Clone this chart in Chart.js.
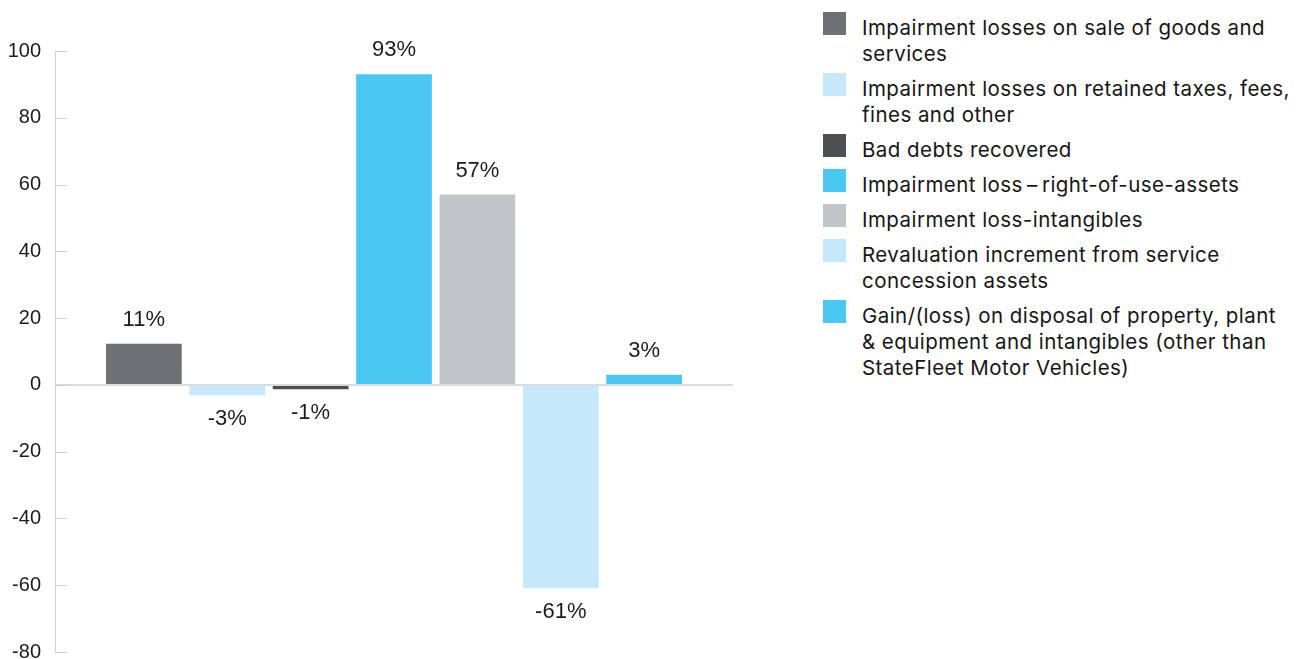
<!DOCTYPE html>
<html>
<head>
<meta charset="utf-8">
<script src="https://cdn.jsdelivr.net/npm/chart.js@4"></script>
<style>
  html, body { margin: 0; padding: 0; background: #fff; overflow: hidden; }
  body { width: 1307px; height: 659px; position: relative; }
  #chart-box { position: absolute; left: 0; top: 0; width: 760px; height: 680px; }
  #legend { position: absolute; left: 823px; top: 15px; margin: 0; padding: 0; list-style: none;
    font-family: "Inter", "Noto Sans", sans-serif; font-size: 20.5px; letter-spacing: 0.45px;
    line-height: 26px; color: #161616; }
  #legend li { position: relative; padding-left: 39px; margin-bottom: 9px; white-space: nowrap; }
  #legend li span.sw { position: absolute; left: 0; top: -3px; width: 23px; height: 23px; }
</style>
</head>
<body>
<div id="chart-box"><canvas id="impairment-chart"></canvas></div>
<ul id="legend"></ul>
<script>
var categories = [
    "Impairment losses on sale of goods and\nservices",
    "Impairment losses on retained taxes, fees,\nfines and other",
    "Bad debts recovered",
    "Impairment loss\u2009\u2013\u2009right-of-use-assets",
    "Impairment loss-intangibles",
    "Revaluation increment from service\nconcession assets",
    "Gain/(loss) on disposal of property, plant\n& equipment and intangibles (other than\nStateFleet Motor Vehicles)"
];
var values = [12.3, -3.1, -1.3, 93, 57, -60.9, 3];
var valueLabels = ["11%", "-3%", "-1%", "93%", "57%", "-61%", "3%"];
var colors = ["#6e7274", "#c5e9fb", "#4a5054", "#4ac7f2", "#c2c6c9", "#c5e9fb", "#4ac7f2"];
var yTicks = [100, 80, 60, 40, 20, 0, -20, -40, -60, -80];

var datasets = categories.map(function(name, i){
    return {
        label: name,
        data: [values[i]],
        backgroundColor: colors[i],
        borderWidth: 0,
        categoryPercentage: 0.861,
        barPercentage: 0.908
    };
});

// short tick marks drawn inward from the axis, plus value labels on bars
var extras = {
    id: 'extras',
    afterDatasetsDraw: function(chart){
        var ctx = chart.ctx;
        var y = chart.scales.y;
        ctx.save();
        ctx.strokeStyle = "#ccd0d3";
        ctx.lineWidth = 1;
        yTicks.forEach(function(v){
            var py = Math.round(y.getPixelForValue(v)) + 0.5;
            ctx.beginPath();
            ctx.moveTo(chart.chartArea.left, py);
            ctx.lineTo(chart.chartArea.left + 12, py);
            ctx.stroke();
        });
        ctx.font = "22px 'Liberation Sans', Arial, sans-serif";
        ctx.fillStyle = "#1c1c1c";
        ctx.textAlign = "center";
        ctx.textBaseline = "middle";
        chart.data.datasets.forEach(function(ds, i){
            var bar = chart.getDatasetMeta(i).data[0];
            var up = values[i] >= 0;
            var ty = up ? bar.y - 24 : bar.y + 24;
            ctx.fillText(valueLabels[i], bar.x, ty);
        });
        ctx.restore();
    }
};

new Chart(document.getElementById("impairment-chart"), {
    type: 'bar',
    data: { labels: [""], datasets: datasets },
    plugins: [extras],
    options: {
        responsive: true,
        maintainAspectRatio: false,
        animation: false,
        layout: { padding: { top: 51, bottom: 28, right: 27, left: 0 } },
        plugins: { legend: { display: false }, tooltip: { enabled: false } },
        scales: {
            x: { display: false },
            y: {
                min: -80,
                max: 100,
                afterFit: function(scale){ scale.width = 55; },
                afterBuildTicks: function(scale){
                    scale.ticks = yTicks.map(function(v){ return { value: v }; });
                },
                border: { color: "#ccd0d3", width: 1 },
                grid: {
                    drawTicks: false,
                    lineWidth: 2,
                    color: function(c){ return c.tick && c.tick.value === 0 ? "#d9dcde" : "rgba(0,0,0,0)"; }
                },
                ticks: {
                    padding: 14,
                    color: "#1c1c1c",
                    font: { family: "'Liberation Sans', Arial, sans-serif", size: 20 }
                }
            }
        }
    }
});

var legend = document.getElementById("legend");
categories.forEach(function(name, i){
    var li = document.createElement("li");
    var sw = document.createElement("span");
    sw.className = "sw";
    sw.style.background = colors[i];
    li.appendChild(sw);
    name.split("\n").forEach(function(line, k){
        if (k > 0) li.appendChild(document.createElement("br"));
        li.appendChild(document.createTextNode(line));
    });
    legend.appendChild(li);
});
</script>
</body>
</html>
